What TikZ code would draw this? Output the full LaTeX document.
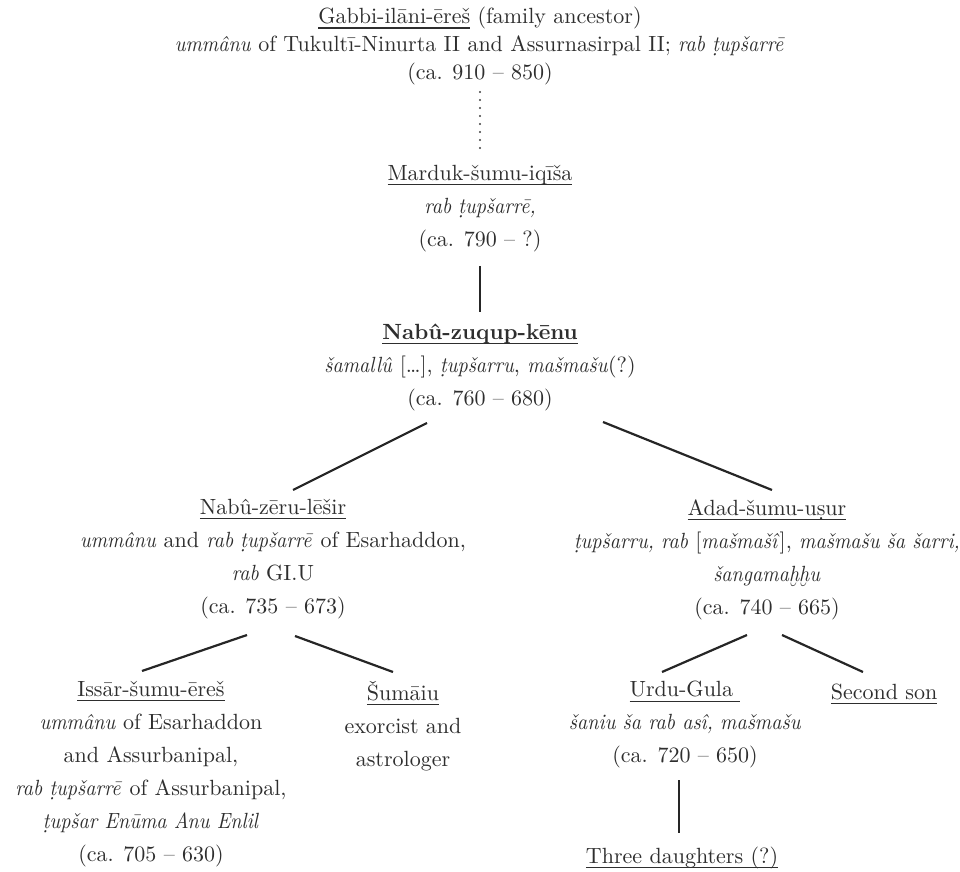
\documentclass[tikz,border=0pt]{standalone}
\usepackage{fontspec}
\setmainfont{lmroman10-regular.otf}[
    BoldFont=lmroman10-bold.otf,
    ItalicFont=lmroman10-italic.otf,
    BoldItalicFont=lmroman10-bolditalic.otf,
    ItalicFeatures={FakeStretch=0.91},
]
\usepackage{tikz}
\newcommand{\uname}[1]{\setbox0\hbox{#1}\rlap{\rule[-2.4pt]{\wd0}{0.6pt}}\box0\relax}
\tikzset{
    x=0.5pt, y=-0.5pt,
    person/.style={
        anchor=north,
        align=center,
        inner sep=0pt,
        text=black!82,
        font=\fontsize{11}{16.5}\selectfont,
        execute at begin node=\rule{0pt}{9pt},
    },
    ancestor/.style={
        person,
        font=\fontsize{11}{14}\selectfont,
    },
    link/.style={
        draw=black!85,
        line width=1.1pt,
    },
    gap/.style={
        draw=black!75,
        line width=1.1pt,
        line cap=round,
        dash pattern=on 0pt off 4pt,
    },
}
\begin{document}
\begin{tikzpicture}
    \useasboundingbox (0,0) rectangle (960,872);

    \node[ancestor] (gabbi) at (480,7) {\uname{Gabbi-ilāni-ēreš} (family ancestor)\\
        \emph{ummânu} of Tukultī-Ninurta II and Assurnasirpal II; \emph{rab ṭupšarrē}\\
        (ca. 910 -- 850)};
    \node[person] (marduk) at (480,165) {\uname{Marduk-šumu-iqīša}\\
        \emph{rab ṭupšarrē,}\\
        (ca. 790 -- ?)};
    \node[person] (zuqup) at (480,323) {\textbf{\uname{Nabû-zuqup-kēnu}}\\
        \emph{šamallû} [\ldots], \emph{ṭupšarru}, \emph{mašmašu}(?)\\
        (ca. 760 -- 680)};

    \node[person] (zeru) at (273,499) {\uname{Nabû-zēru-lēšir}\\
        \emph{ummânu} and \emph{rab ṭupšarrē} of Esarhaddon,\\
        \emph{rab} GI.U\\
        (ca. 735 -- 673)};
    \node[person] (adad) at (767,499) {\uname{Adad-šumu-uṣur}\\
        \emph{ṭupšarru, rab} [\emph{mašmašî}], \emph{mašmašu ša šarri,}\\
        \emph{šangamaḫḫu}\\
        (ca. 740 -- 665)};

    \node[person] (issar) at (151,681) {\uname{Issār-šumu-ēreš}\\
        \emph{ummânu} of Esarhaddon\\
        and Assurbanipal,\\
        \emph{rab ṭupšarrē} of Assurbanipal,\\
        \emph{ṭupšar Enūma Anu Enlil}\\
        (ca. 705 -- 630)};
    \node[person] (sumaiu) at (403,681) {\uname{Šumāiu}\\
        exorcist and\\
        astrologer};
    \node[person] (urdu) at (685,681) {\uname{Urdu-Gula\ }\\
        \emph{šaniu ša rab asî, mašmašu}\\
        (ca. 720 -- 650)};
    \node[person] (second) at (884,681) {\uname{Second son}};
    \node[person] (daughters) at (682,845) {\uname{Three daughters (?)}};

    \draw[gap] ([shift={(0,85)}]gabbi.north) -- ([shift={(0,-15)}]marduk.north);
    \draw[link] ([shift={(0,101)}]marduk.north) -- ([shift={(0,-11)}]zuqup.north);
    \draw[link] ([shift={(-53,100)}]zuqup.north) -- ([shift={(20,-9)}]zeru.north);
    \draw[link] ([shift={(123,99)}]zuqup.north) -- ([shift={(5,-9)}]adad.north);
    \draw[link] ([shift={(-26,136)}]zeru.north) -- ([shift={(-9,-10)}]issar.north);
    \draw[link] ([shift={(22,137)}]zeru.north) -- ([shift={(-10,-9)}]sumaiu.north);
    \draw[link] ([shift={(-20,136)}]adad.north) -- ([shift={(-23,-9)}]urdu.north);
    \draw[link] ([shift={(15,136)}]adad.north) -- ([shift={(-21,-9)}]second.north);
    \draw[link] ([shift={(-6,99)}]urdu.north) -- ([shift={(-3,-12)}]daughters.north);
\end{tikzpicture}
\end{document}
